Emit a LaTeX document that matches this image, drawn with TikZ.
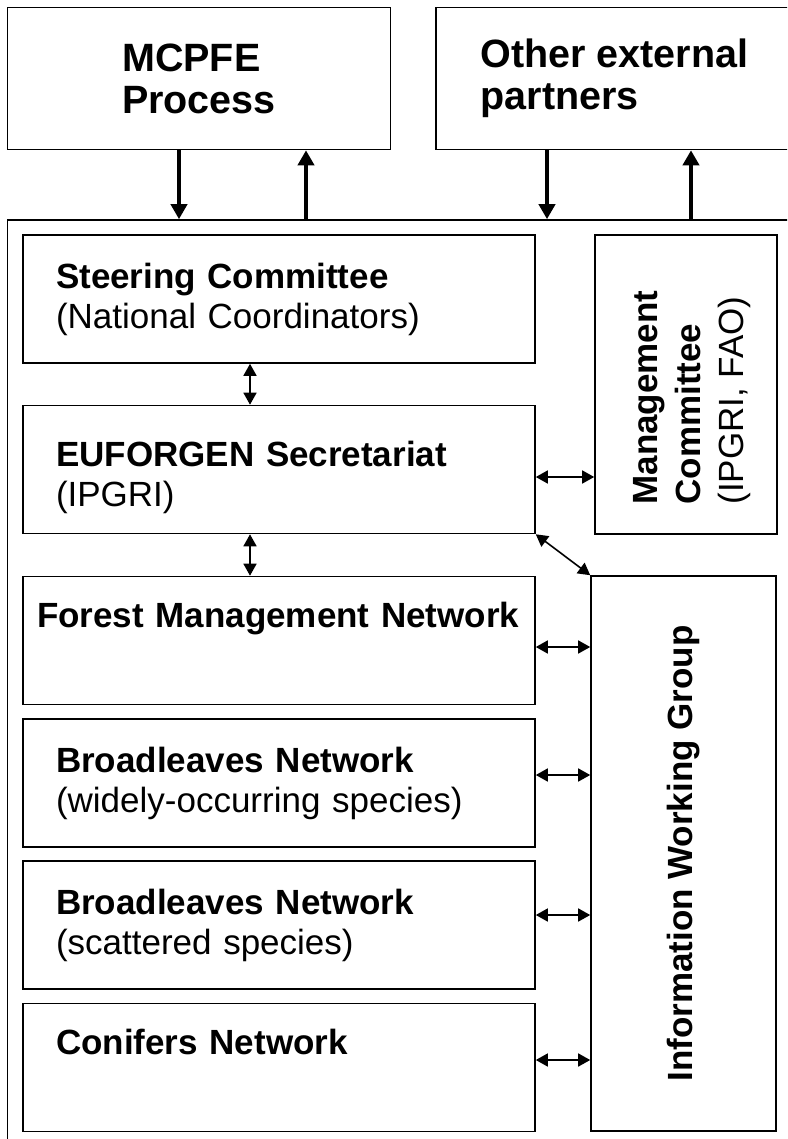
\documentclass[tikz,border=0pt]{standalone}
\usepackage{fontspec}
\setmainfont{Liberation Sans}
\usepackage{graphicx}
\usetikzlibrary{arrows.meta,positioning}

\begin{document}
\begin{tikzpicture}[
  x=1pt, y=-1pt,
  font=\fontsize{35}{40}\selectfont,
  box/.style={draw, line width=1.6pt, align=left, inner ysep=0pt, minimum height=128pt},
  net/.style={box, inner xsep=33pt, text width=446pt},
  side/.style={draw, line width=1.6pt, inner sep=0pt},
  vtext/.style={rotate=90, align=left, inner sep=0pt, font=\fontsize{35}{43}\selectfont},
  ext/.style={draw, line width=1.6pt, align=left, minimum height=142pt, font=\fontsize{39.5}{42}\selectfont\bfseries},
  ar/.style={-{Triangle[length=15pt,width=16pt]}, line width=4pt},
  dar/.style={{Triangle[length=12pt,width=13pt]}-{Triangle[length=12pt,width=13pt]}, line width=1.6pt},
]
\useasboundingbox (0,0) rectangle (787,1139);
\clip (0,0) rectangle (787,1139);
\fill[white] (0,0) rectangle (787,1139);

% partners outside the programme
\node[ext, minimum width=383pt] (mcpfe) at (199,78.5) {MCPFE\\Process};
\node[ext, minimum width=357pt] (other) at (614.5,78.5) {Other external\\partners};

% programme frame (runs off the page on the right and bottom)
\node[draw, line width=1.6pt, minimum width=792pt, minimum height=930pt, inner sep=0pt] (frame) at (403.5,685) {};

% bodies and networks
\node[net] (steer) at (279,299) {\textbf{Steering Committee}\\(National Coordinators)};
\node[net] (secr) at (279,469.5) {\rule{0pt}{41pt}\textbf{EUFORGEN Secretariat}\\(IPGRI)};
\node[net, inner xsep=14pt, text width=484pt] (forest) at (279,640.5) {\mbox{\textbf{Forest Management Network}}\\\strut};
\node[net] (broadw) at (279,783) {\textbf{Broadleaves Network}\\(widely-occurring species)};
\node[net] (broads) at (279,925) {\textbf{Broadleaves Network}\\(scattered species)};
\node[net] (conif) at (279,1067.5) {\textbf{Conifers Network}\\\strut};

\node[side, minimum width=182pt, minimum height=299pt] (mgmt) at (686,384.5) {};
\node[vtext] (mgmtlabel) at ([xshift=6pt,yshift=-13pt]mgmt.center)
  {\textbf{Management}\\\textbf{Committee}\\(IPGRI, FAO)};
\node[side, minimum width=185pt, minimum height=555pt] (iwg) at (683.5,853.5) {};
\node[vtext] (iwglabel) at (iwg.center) {\textbf{Information Working Group}};

% links with the outside
\draw[ar] (mcpfe.south -| 179,0) -- (frame.north -| 179,0);
\draw[ar] (frame.north -| 306,0) -- (mcpfe.south -| 306,0);
\draw[ar] (other.south -| 547,0) -- (frame.north -| 547,0);
\draw[ar] (frame.north -| 691,0) -- (other.south -| 691,0);

% links inside
\draw[dar] (steer.south -| 250,0) -- (secr.north -| 250,0);
\draw[dar] (secr.south -| 250,0) -- (forest.north -| 250,0);
\draw[dar] (secr.east |- 0,477) -- (mgmt.west |- 0,477);
\draw[dar] (secr.south east) -- (iwg.north west);
\draw[dar] (forest.east |- 0,647) -- (iwg.west |- 0,647);
\draw[dar] (broadw.east |- 0,775) -- (iwg.west |- 0,775);
\draw[dar] (broads.east |- 0,915) -- (iwg.west |- 0,915);
\draw[dar] (conif.east |- 0,1060) -- (iwg.west |- 0,1060);
\end{tikzpicture}
\end{document}
